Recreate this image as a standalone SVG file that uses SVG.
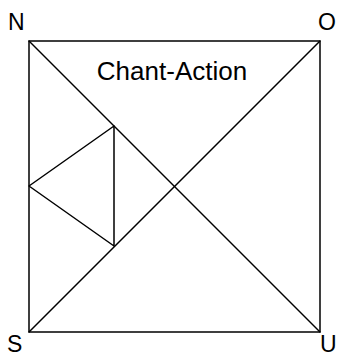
<svg xmlns="http://www.w3.org/2000/svg" width="339" height="358" viewBox="0 0 339 358">
<style>
.l{stroke:#000;stroke-width:1.5;fill:none;stroke-linecap:round;stroke-linejoin:round}
.t{font-family:"Liberation Sans",Arial,sans-serif;font-size:23px;fill:#000}
.c{font-size:26px}
</style>
<rect width="339" height="358" fill="#fff"/>
<g id="connectors">
<rect class="l" x="29" y="41" width="291" height="291"/>
<line class="l" x1="29" y1="41" x2="320" y2="332"/>
<line class="l" x1="29" y1="332" x2="320" y2="41"/>
<polygon class="l" points="29,186 114,126 114,246"/>
</g>
<g id="N"><text class="t" x="8" y="30">N</text></g>
<g id="O"><text class="t" x="318" y="30">O</text></g>
<g id="S"><text class="t" x="7" y="352">S</text></g>
<g id="U"><text class="t" x="320" y="352">U</text></g>
<g id="label"><text class="t c" x="172" y="80" text-anchor="middle">Chant-Action</text></g>
</svg>
